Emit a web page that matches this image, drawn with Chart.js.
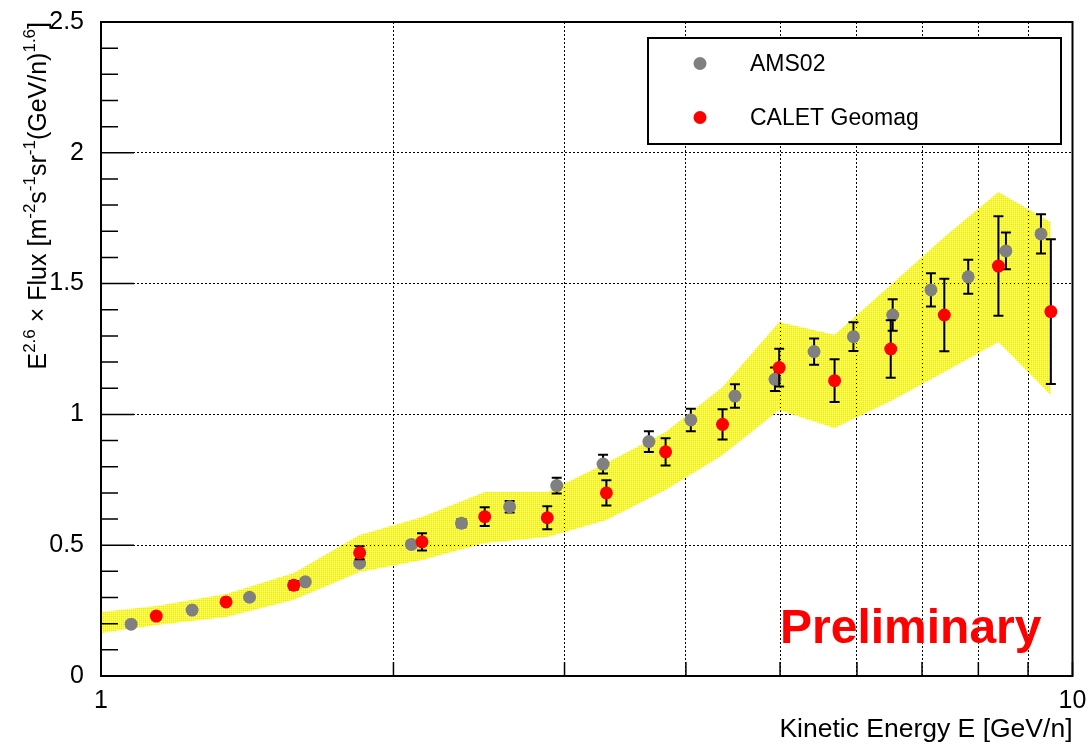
<!DOCTYPE html>
<html>
<head>
<meta charset="utf-8">
<script src="https://cdn.jsdelivr.net/npm/chart.js@4.4.1/dist/chart.umd.min.js"></script>
<style>
  html, body { margin: 0; padding: 0; background: #ffffff; }
  canvas { display: block; }
</style>
</head>
<body>
<canvas id="c" width="1091" height="746"></canvas>
<script>
// ---- data: E^2.6 x flux versus kinetic energy per nucleon ----
const amsEnergy = [1.074, 1.241, 1.422, 1.623, 1.846, 2.087, 2.350, 2.634, 2.945, 3.287, 3.664,
                   4.047, 4.493, 4.94, 5.42, 5.95, 6.53, 7.15, 7.81, 8.54, 9.28];
const amsFlux   = [0.198, 0.252, 0.301, 0.360, 0.431, 0.503, 0.584, 0.647, 0.728, 0.810, 0.896,
                   0.979, 1.070, 1.134, 1.240, 1.297, 1.380, 1.476, 1.526, 1.625, 1.690];
const amsErr    = [0.005, 0.006, 0.007, 0.008, 0.010, 0.012, 0.015, 0.022, 0.030, 0.036, 0.040,
                   0.043, 0.045, 0.045, 0.050, 0.055, 0.060, 0.064, 0.065, 0.070, 0.075];

const caletEnergy = [1.14, 1.345, 1.579, 1.846, 2.14, 2.483, 2.88, 3.313, 3.812, 4.363, 4.99,
                     5.69, 6.50, 7.38, 8.39, 9.50];
const caletFlux   = [0.229, 0.283, 0.347, 0.471, 0.513, 0.609, 0.605, 0.700, 0.857, 0.962, 1.179,
                     1.129, 1.250, 1.380, 1.567, 1.393];
const caletErr    = [0.010, 0.012, 0.016, 0.025, 0.033, 0.036, 0.044, 0.048, 0.052, 0.058, 0.072,
                     0.082, 0.110, 0.139, 0.190, 0.277];

// systematic band (upper / lower edges)
const bandEnergy = [1.0, 1.14, 1.345, 1.579, 1.846, 2.14, 2.483, 2.88, 3.313, 3.812, 4.363, 4.99,
                    5.69, 6.50, 7.38, 8.39, 9.50];
const bandUpper  = [0.245, 0.268, 0.313, 0.394, 0.539, 0.608, 0.703, 0.703, 0.814, 0.933, 1.105,
                    1.353, 1.304, 1.495, 1.678, 1.850, 1.735];
const bandLower  = [0.164, 0.195, 0.226, 0.291, 0.398, 0.443, 0.508, 0.531, 0.596, 0.711, 0.845,
                    1.017, 0.948, 1.051, 1.162, 1.277, 1.074];

// axis ticks
const xTicks = [1, 2, 3, 4, 5, 6, 7, 8, 9, 10];
const xLabeledTicks = [1, 10];
const yTicks = [0, 0.5, 1, 1.5, 2, 2.5];
const yMinorStep = 0.1;

const seriesNames = ['AMS02', 'CALET Geomag'];
const stampText = 'Preliminary';
const xTitle = 'Kinetic Energy E [GeV/n]';
// y title pieces: [text, isSuperscript]
const yTitleParts = [
  ['E', false], ['2.6', true], [' \u00d7 Flux [m', false], ['-2', true], ['s', false],
  ['-1', true], ['sr', false], ['-1', true], ['(GeV/n)', false], ['1.6', true], [']', false]
];

const FONT = "'Liberation Sans', Arial, Helvetica, sans-serif";

function toPoints(xs, ys) { return xs.map((x, i) => ({ x: x, y: ys[i] })); }

// dithered yellow fill for the band
function bandPattern() {
  const c = document.createElement('canvas');
  c.width = 2; c.height = 2;
  const g = c.getContext('2d');
  g.fillStyle = '#ffff00';
  g.fillRect(0, 0, 1, 1);
  g.fillRect(1, 1, 1, 1);
  g.fillStyle = '#ecec10';
  g.fillRect(1, 0, 1, 1);
  return g.createPattern(c, 'repeat');
}

// vertical error bars with caps, drawn just before each point set
const errorBars = {
  id: 'errorBars',
  beforeDatasetDraw(chart, args) {
    const ds = chart.data.datasets[args.index];
    if (!ds.errors) return;
    const { ctx, scales: { x, y } } = chart;
    ctx.save();
    ctx.strokeStyle = '#000';
    ctx.lineWidth = 2;
    ds.data.forEach((p, i) => {
      const e = ds.errors[i];
      const px = x.getPixelForValue(p.x);
      const top = y.getPixelForValue(p.y + e);
      const bot = y.getPixelForValue(p.y - e);
      ctx.beginPath();
      ctx.moveTo(px, top); ctx.lineTo(px, bot);
      ctx.moveTo(px - 5, top); ctx.lineTo(px + 5, top);
      ctx.moveTo(px - 5, bot); ctx.lineTo(px + 5, bot);
      ctx.stroke();
    });
    ctx.restore();
  }
};

// frame, inner tick marks, legend box, stamp and y-axis title
const decorations = {
  id: 'decorations',
  afterDatasetsDraw(chart) {
    const { ctx, chartArea: a, scales: { x, y } } = chart;
    ctx.save();
    ctx.strokeStyle = '#000';
    ctx.lineWidth = 1.5;
    ctx.beginPath();
    const nMinor = Math.round((y.max - y.min) / yMinorStep);
    for (let k = 0; k <= nMinor; k++) {
      const v = y.min + k * yMinorStep;
      const py = y.getPixelForValue(v);
      const major = yTicks.some(t => Math.abs(t - v) < 1e-6);
      ctx.moveTo(a.left, py);
      ctx.lineTo(a.left + (major ? 33 : 17), py);
    }
    xTicks.forEach(v => {
      const px = x.getPixelForValue(v);
      ctx.moveTo(px, a.bottom);
      ctx.lineTo(px, a.bottom - 14);
    });
    ctx.stroke();

    ctx.lineWidth = 2;
    ctx.strokeRect(a.left, a.top, a.right - a.left, a.bottom - a.top);

    // legend
    const lx = 648, ly = 38, lw = 413, lh = 106;
    ctx.fillStyle = '#fff';
    ctx.fillRect(lx, ly, lw, lh);
    ctx.strokeRect(lx, ly, lw, lh);
    const entries = [chart.data.datasets[2], chart.data.datasets[3]];
    ctx.font = '23px ' + FONT;
    ctx.textBaseline = 'middle';
    ctx.textAlign = 'left';
    entries.forEach((ds, i) => {
      const cy = 63.5 + i * 54;
      ctx.fillStyle = ds.backgroundColor;
      ctx.beginPath();
      ctx.arc(700, cy, 6.5, 0, Math.PI * 2);
      ctx.fill();
      ctx.fillStyle = '#000';
      ctx.fillText(ds.label, 750, cy + 1);
    });

    // stamp
    ctx.fillStyle = '#ff0000';
    ctx.font = 'bold 48px ' + FONT;
    ctx.textBaseline = 'alphabetic';
    ctx.fillText(stampText, 780, 643);

    // y-axis title, rotated, aligned to the top end of the axis
    const mainSize = 25, supSize = 17;
    const widths = yTitleParts.map(([t, sup]) => {
      ctx.font = (sup ? supSize : mainSize) + 'px ' + FONT;
      return ctx.measureText(t).width;
    });
    const total = widths.reduce((s, w) => s + w, 0);
    ctx.translate(46, a.top);
    ctx.rotate(-Math.PI / 2);
    ctx.fillStyle = '#000';
    let cx = -total;
    yTitleParts.forEach(([t, sup], i) => {
      ctx.font = (sup ? supSize : mainSize) + 'px ' + FONT;
      ctx.fillText(t, cx, sup ? -11 : 0);
      cx += widths[i];
    });
    ctx.restore();
  }
};

const pattern = bandPattern();

new Chart(document.getElementById('c').getContext('2d'), {
  type: 'scatter',
  data: {
    datasets: [
      {
        label: 'band upper',
        data: toPoints(bandEnergy, bandUpper),
        showLine: true,
        fill: '+1',
        backgroundColor: pattern,
        borderColor: 'rgba(0,0,0,0)',
        borderWidth: 0,
        pointRadius: 0,
        tension: 0,
        order: 3
      },
      {
        label: 'band lower',
        data: toPoints(bandEnergy, bandLower),
        showLine: true,
        fill: false,
        borderColor: 'rgba(0,0,0,0)',
        borderWidth: 0,
        pointRadius: 0,
        tension: 0,
        order: 3
      },
      {
        label: seriesNames[0],
        data: toPoints(amsEnergy, amsFlux),
        errors: amsErr,
        backgroundColor: '#808080',
        borderColor: '#808080',
        borderWidth: 0,
        pointRadius: 6.5,
        order: 2
      },
      {
        label: seriesNames[1],
        data: toPoints(caletEnergy, caletFlux),
        errors: caletErr,
        backgroundColor: '#ff0000',
        borderColor: '#ff0000',
        borderWidth: 0,
        pointRadius: 6.5,
        order: 1
      }
    ]
  },
  options: {
    responsive: false,
    animation: false,
    devicePixelRatio: 1,
    events: [],
    layout: { padding: { left: 0, right: 18.5, top: 22, bottom: 0 } },
    plugins: { legend: { display: false }, tooltip: { enabled: false } },
    scales: {
      x: {
        type: 'logarithmic',
        min: 1,
        max: 10,
        afterBuildTicks: s => { s.ticks = xTicks.map(v => ({ value: v })); },
        afterFit: s => {
          s.height = 70;
          s.paddingLeft = 0; s.paddingRight = 0; s.paddingTop = 0; s.paddingBottom = 0;
        },
        ticks: {
          autoSkip: false,
          maxRotation: 0,
          color: '#000',
          font: { family: FONT, size: 25 },
          padding: 10,
          callback: v => (xLabeledTicks.includes(v) ? String(v) : '')
        },
        grid: { color: '#000', lineWidth: 1, drawTicks: false },
        border: { display: false, dash: [2, 2] },
        title: {
          display: true,
          text: xTitle,
          align: 'end',
          color: '#000',
          font: { family: FONT, size: 26.5 },
          padding: { top: 0, bottom: 0 }
        }
      },
      y: {
        type: 'linear',
        min: 0,
        max: 2.5,
        afterBuildTicks: s => { s.ticks = yTicks.map(v => ({ value: v })); },
        afterFit: s => {
          s.width = 101;
          s.paddingLeft = 0; s.paddingRight = 0; s.paddingTop = 0; s.paddingBottom = 0;
        },
        ticks: {
          color: '#000',
          font: { family: FONT, size: 25 },
          padding: 17,
          callback: v => String(v)
        },
        grid: { color: '#000', lineWidth: 1, drawTicks: false },
        border: { display: false, dash: [2, 2] }
      }
    }
  },
  plugins: [errorBars, decorations]
});
</script>
</body>
</html>
